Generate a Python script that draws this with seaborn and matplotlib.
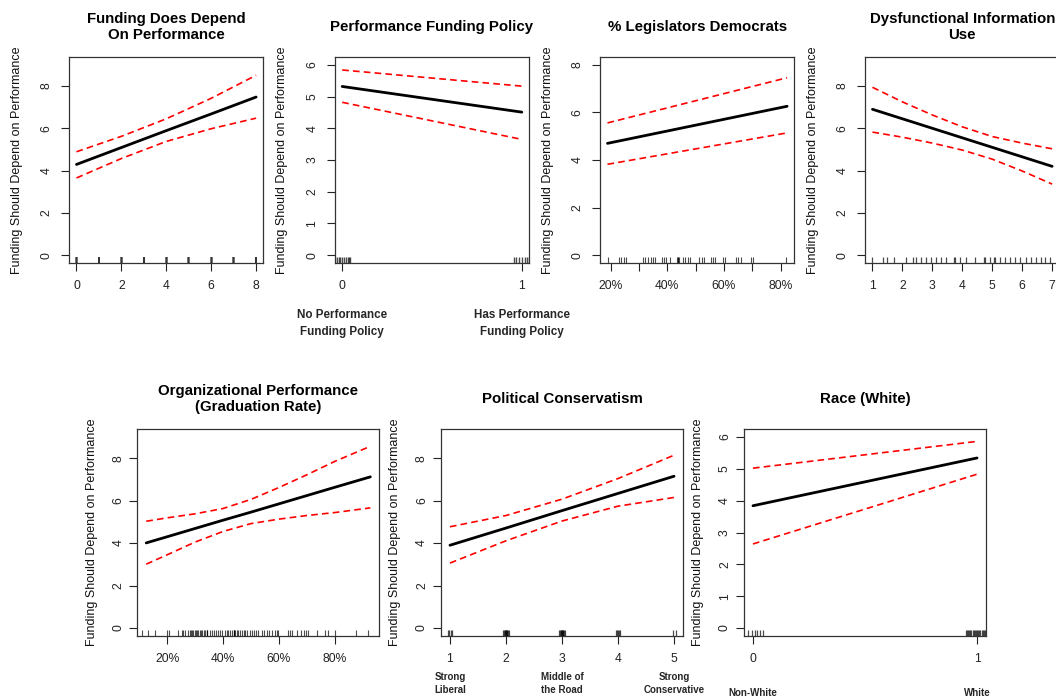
import matplotlib
matplotlib.use("Agg")
import matplotlib.pyplot as plt
import matplotlib.transforms as mtransforms
import seaborn as sns

# ---------------- data ----------------
ylab = "Funding Should Depend on Performance"

titles = ["Funding Does Depend\nOn Performance", "Performance Funding Policy",
          "% Legislators Democrats", "Dysfunctional Information\nUse",
          "Organizational Performance\n(Graduation Rate)", "Political Conservatism",
          "Race (White)"]

# Panel 1: Funding does depend on performance
fund_x = [0, 2, 4, 6, 8]
fund_fit = [4.29, 5.09, 5.89, 6.68, 7.48]
fund_upper = [4.89, 5.62, 6.45, 7.42, 8.51]
fund_lower = [3.65, 4.57, 5.38, 5.98, 6.48]
fund_rug = [-0.015, 0.015, 0.985, 1.015, 1.985, 2.015, 2.985, 3.015, 3.985, 4.015,
            4.985, 5.015, 5.985, 6.015, 6.985, 7.015, 7.985, 8.015]
fund_ticks = [0, 2, 4, 6, 8]
fund_ticklabels = ["0", "2", "4", "6", "8"]

# Panel 2: Performance funding policy
pol_x = [0, 1]
pol_fit = [5.32, 4.51]
pol_upper = [5.84, 5.33]
pol_lower = [4.82, 3.65]
pol_rug = [-0.04, -0.03, -0.02, -0.01, 0.0, 0.01, 0.02, 0.03, 0.04, 0.045,
           0.955, 0.97, 0.985, 1.0, 1.015, 1.03, 1.04]
pol_ticks = [0, 1]
pol_ticklabels = ["0", "1"]
pol_catlabels = ["No Performance\nFunding Policy", "Has Performance\nFunding Policy"]

# Panel 3: % legislators democrats
dem_x = [0.189, 0.823]
dem_fit = [4.70, 6.26]
dem_upper = [5.56, 7.46]
dem_lower = [3.82, 5.14]
dem_rug = [0.191, 0.229, 0.2375, 0.247, 0.255, 0.316, 0.323, 0.331, 0.341, 0.349,
           0.357, 0.382, 0.388, 0.396, 0.411, 0.434, 0.438, 0.439, 0.440, 0.457,
           0.464, 0.472, 0.480, 0.513, 0.521, 0.530, 0.554, 0.560, 0.569, 0.595,
           0.603, 0.642, 0.651, 0.659, 0.695, 0.703, 0.820]
dem_ticks = [0.2, 0.3, 0.4, 0.5, 0.6, 0.7, 0.8]
dem_ticklabels = ["20%", "", "40%", "", "60%", "", "80%"]

# Panel 4: dysfunctional information use
dys_x = [1, 2, 3, 4, 5, 6, 7]
dys_fit = [6.90, 6.45, 6.00, 5.55, 5.10, 4.65, 4.20]
dys_upper = [7.94, 7.25, 6.63, 6.07, 5.61, 5.30, 5.03]
dys_lower = [5.82, 5.58, 5.30, 4.97, 4.54, 3.98, 3.36]
dys_rug = [1.0, 1.34, 1.5, 1.73, 2.12, 2.34, 2.45, 2.62, 2.79, 2.96, 3.12, 3.29,
           3.46, 3.73, 3.75, 3.91, 4.13, 4.41, 4.73, 4.75, 4.91, 5.07, 5.09, 5.25,
           5.41, 5.58, 5.75, 5.92, 6.14, 6.31, 6.47, 6.64, 6.75, 6.92]
dys_ticks = [1, 2, 3, 4, 5, 6, 7]
dys_ticklabels = ["1", "2", "3", "4", "5", "6", "7"]

# Panel 5: graduation rate
gr_x = [0.125, 0.2, 0.3, 0.4, 0.5, 0.6, 0.7, 0.8, 0.927]
gr_fit = [4.01, 4.30, 4.69, 5.08, 5.46, 5.85, 6.24, 6.63, 7.12]
gr_upper = [5.03, 5.19, 5.38, 5.63, 6.06, 6.62, 7.22, 7.85, 8.56]
gr_lower = [3.01, 3.45, 4.05, 4.55, 4.92, 5.13, 5.30, 5.44, 5.66]
gr_rug = [0.111, 0.133, 0.157, 0.199, 0.205, 0.240, 0.252, 0.258, 0.264, 0.276,
          0.280, 0.285, 0.290, 0.294, 0.299, 0.303, 0.308, 0.312, 0.317, 0.322,
          0.326, 0.331, 0.336, 0.341, 0.342, 0.343, 0.354, 0.362, 0.368, 0.375,
          0.380, 0.388, 0.395, 0.407, 0.413, 0.419, 0.426, 0.432, 0.438, 0.439,
          0.440, 0.444, 0.450, 0.455, 0.461, 0.468, 0.474, 0.479, 0.485, 0.495,
          0.503, 0.510, 0.518, 0.526, 0.538, 0.548, 0.556, 0.566, 0.575, 0.584,
          0.592, 0.598, 0.633, 0.640, 0.648, 0.663, 0.680, 0.688, 0.695, 0.705,
          0.735, 0.764, 0.776, 0.800, 0.877, 0.919]
gr_ticks = [0.2, 0.4, 0.6, 0.8]
gr_ticklabels = ["20%", "40%", "60%", "80%"]

# Panel 6: political conservatism
pc_x = [1, 2, 3, 4, 5]
pc_fit = [3.90, 4.71, 5.53, 6.34, 7.15]
pc_upper = [4.77, 5.30, 6.07, 7.04, 8.14]
pc_lower = [3.06, 4.11, 5.04, 5.74, 6.15]
pc_rug = [0.97, 0.99, 1.01, 1.03,
          1.955, 1.965, 1.975, 1.985, 1.995, 2.005, 2.015, 2.025, 2.035, 2.045,
          2.955, 2.965, 2.975, 2.985, 2.995, 3.005, 3.015, 3.025, 3.035, 3.045,
          3.97, 3.985, 4.0, 4.015, 4.03,
          4.98, 5.03]
pc_ticks = [1, 2, 3, 4, 5]
pc_ticklabels = ["1", "2", "3", "4", "5"]
pc_catlabels = ["Strong\nLiberal", "Middle of\nthe Road", "Strong\nConservative"]
pc_catpos = [1, 3, 5]

# Panel 7: race
race_x = [0, 1]
race_fit = [3.84, 5.34]
race_upper = [5.02, 5.86]
race_lower = [2.64, 4.83]
race_rug = [-0.02, -0.005, 0.01, 0.02, 0.03, 0.045,
            0.95, 0.955, 0.96, 0.965, 0.97, 0.975, 0.98, 0.985, 0.99, 0.995, 1.0,
            1.005, 1.01, 1.015, 1.02, 1.025, 1.03, 1.035, 1.04, 1.045, 1.05]
race_ticks = [0, 1]
race_ticklabels = ["0", "1"]
race_catlabels = ["Non-White", "White"]

# ---------------- style ----------------
sns.set_theme(style="ticks")
plt.rcParams['font.family'] = ['Liberation Sans', 'DejaVu Sans']

W, H = 1056, 698
fig = plt.figure(figsize=(W / 100, H / 100), dpi=100)
fig.patch.set_facecolor("white")

# layout (pixels)
top_row = dict(top=57.3, h=205.4, w=194.0)
bot_row = dict(top=429.3, h=206.4, w=242.0)

panels = [
    dict(x=fund_x, fit=fund_fit, up=fund_upper, lo=fund_lower, rug=fund_rug, rug_lw=1.1,
         ticks=fund_ticks, tl=fund_ticklabels, xlim=(-0.32, 8.32), ylim=(0, 9), ystep=2,
         left=69.3, row=top_row),
    dict(x=pol_x, fit=pol_fit, up=pol_upper, lo=pol_lower, rug=pol_rug, rug_lw=1.0,
         ticks=pol_ticks, tl=pol_ticklabels, xlim=(-0.04, 1.04), ylim=(0, 6), ystep=1,
         left=335.0, row=top_row),
    dict(x=dem_x, fit=dem_fit, up=dem_upper, lo=dem_lower, rug=dem_rug, rug_lw=0.8,
         ticks=dem_ticks, tl=dem_ticklabels, xlim=(0.1636, 0.8484), ylim=(0, 8), ystep=2,
         left=600.3, row=top_row),
    dict(x=dys_x, fit=dys_fit, up=dys_upper, lo=dys_lower, rug=dys_rug, rug_lw=0.9,
         ticks=dys_ticks, tl=dys_ticklabels, xlim=(0.76, 7.24), ylim=(0, 9), ystep=2,
         left=865.3, row=top_row),
    dict(x=gr_x, fit=gr_fit, up=gr_upper, lo=gr_lower, rug=gr_rug, rug_lw=0.8,
         ticks=gr_ticks, tl=gr_ticklabels, xlim=(0.093, 0.959), ylim=(0, 9), ystep=2,
         left=137.3, row=bot_row),
    dict(x=pc_x, fit=pc_fit, up=pc_upper, lo=pc_lower, rug=pc_rug, rug_lw=0.9,
         ticks=pc_ticks, tl=pc_ticklabels, xlim=(0.84, 5.16), ylim=(0, 9), ystep=2,
         left=441.0, row=bot_row),
    dict(x=race_x, fit=race_fit, up=race_upper, lo=race_lower, rug=race_rug, rug_lw=0.9,
         ticks=race_ticks, tl=race_ticklabels, xlim=(-0.04, 1.04), ylim=(0, 6), ystep=1,
         left=744.0, row=bot_row),
]

tick_len = 5.5
axes = []
for i, p in enumerate(panels):
    r = p["row"]
    ax = fig.add_axes([p["left"] / W, 1 - (r["top"] + r["h"]) / H, r["w"] / W, r["h"] / H])
    axes.append(ax)
    ax.set_facecolor("white")
    sns.rugplot(x=p["rug"], ax=ax, height=0.03, color="black", linewidth=p["rug_lw"],
                alpha=0.7, expand_margins=False)
    sns.lineplot(x=p["x"], y=p["up"], ax=ax, color="#ff0000", linewidth=1.2,
                 linestyle=(0, (4, 2.5)), errorbar=None)
    sns.lineplot(x=p["x"], y=p["lo"], ax=ax, color="#ff0000", linewidth=1.2,
                 linestyle=(0, (4, 2.5)), errorbar=None)
    sns.lineplot(x=p["x"], y=p["fit"], ax=ax, color="black", linewidth=2.0,
                 errorbar=None)

    y0, y1 = p["ylim"]
    pad = 0.04 * (y1 - y0)
    ax.set_ylim(y0 - pad, y1 + pad)
    ax.set_xlim(*p["xlim"])

    ax.set_xticks(p["ticks"])
    ax.set_xticklabels(p["tl"])
    yt = list(range(y0, y1 + 1, p["ystep"]))
    ax.set_yticks(yt)
    ax.set_yticklabels([str(v) for v in yt])

    is_top = r is top_row
    ax.tick_params(axis="both", direction="out", length=tick_len, width=0.8,
                   colors="#222222", labelsize=8.7)
    ax.tick_params(axis="x", pad=7.0 if is_top else 6.8)
    ax.tick_params(axis="y", pad=10.8 if is_top else 8.2)
    for lab in ax.get_yticklabels():
        lab.set_rotation(90)
        lab.set_ha("center")
        lab.set_va("center")
    for sp in ax.spines.values():
        sp.set_visible(True)
        sp.set_color("#333333")
        sp.set_linewidth(0.9)

    ax.set_xlabel("")
    ax.set_ylabel(ylab, fontsize=9, color="#111111", va="center")
    off = 52.6 if is_top else 45.6
    ax.yaxis.set_label_coords(-off / r["w"], 0.5)

    ax.text(0.5, 1 + 30.0 / r["h"], titles[i], transform=ax.transAxes,
            ha="center", va="center", fontsize=10.8, fontweight="bold",
            linespacing=1.15, color="black")

# categorical annotations below the axes
ax2 = axes[1]
tr2 = mtransforms.blended_transform_factory(ax2.transData, ax2.transAxes)
for xv, lab in zip(pol_ticks, pol_catlabels):
    ax2.text(xv, -60.6 / top_row["h"], lab, transform=tr2, ha="center", va="center",
             fontsize=8.4, fontweight="bold", linespacing=1.6)

ax6 = axes[5]
tr6 = mtransforms.blended_transform_factory(ax6.transData, ax6.transAxes)
for xv, lab in zip(pc_catpos, pc_catlabels):
    ax6.text(xv, -47.8 / bot_row["h"], lab, transform=tr6, ha="center", va="center",
             fontsize=7.0, fontweight="bold", linespacing=1.4)

ax7 = axes[6]
tr7 = mtransforms.blended_transform_factory(ax7.transData, ax7.transAxes)
for xv, lab in zip(race_ticks, race_catlabels):
    ax7.text(xv, -57.0 / bot_row["h"], lab, transform=tr7, ha="center", va="center",
             fontsize=7.0, fontweight="bold")

fig.savefig("out.png", dpi=100, facecolor="white")
